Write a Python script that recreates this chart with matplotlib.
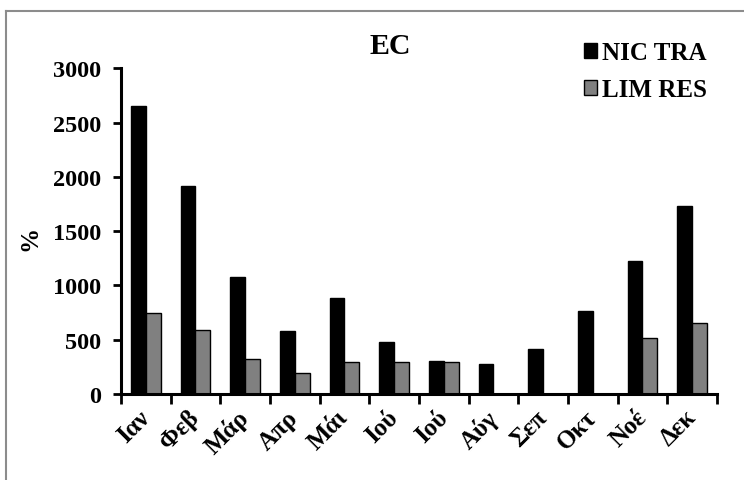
import matplotlib
matplotlib.use("Agg")
import matplotlib.pyplot as plt
from matplotlib.lines import Line2D
import numpy as np

plt.rcParams['font.family'] = ['Liberation Serif', 'DejaVu Serif']
plt.rcParams['font.weight'] = 'bold'

months = ["Ιαν", "Φεβ", "Μάρ", "Απρ", "Μάι", "Ιού", "Ιού", "Αύγ", "Σεπ", "Οκτ", "Νοέ", "Δεκ"]
nic_tra = [2655, 1915, 1075, 577, 880, 482, 307, 276, 414, 767, 1222, 1734]
lim_res = [750, 585, 322, 196, 295, 292, 292, 0, 0, 0, 518, 651]
yticks = [0, 500, 1000, 1500, 2000, 2500, 3000]

fig = plt.figure(figsize=(7.44, 4.81), dpi=100)
ax = fig.add_axes([0.1626, 0.1788, 0.8011, 0.6772])

x = np.arange(len(months))
w = 0.3
ax.bar(x - w / 2, nic_tra, width=w, color="black", edgecolor="black", linewidth=1, label="NIC TRA")
ax.bar(x + w / 2, lim_res, width=w, color="#808080", edgecolor="black", linewidth=1, label="LIM RES")

ax.set_xlim(-0.5, len(months) - 0.5)
ax.set_ylim(0, 3000)
ax.set_yticks(yticks)
ax.set_yticklabels([str(v) for v in yticks], fontsize=17.5, fontweight='bold')

# category boundaries carry the tick marks; labels sit under each group
ax.set_xticks(np.arange(-0.5, len(months) + 0.5, 1.0))
ax.set_xticklabels([])
ax.tick_params(axis='x', direction='out', length=7, width=2)
ax.tick_params(axis='y', direction='out', length=6, width=2, pad=8)
for i, m in enumerate(months):
    ax.text(i - 0.16, -0.035, m, transform=ax.get_xaxis_transform(), rotation=45,
            ha='right', va='top', rotation_mode='anchor', fontsize=18, fontweight='bold')

for s in ("top", "right"):
    ax.spines[s].set_visible(False)
for s in ("left", "bottom"):
    ax.spines[s].set_linewidth(2.2)

ax.set_ylabel("%", fontsize=18, fontweight='bold', va='center')
ax.yaxis.set_label_coords(-0.153, 0.48)
fig.text(390 / 744, 1 - 46 / 481, "EC", ha='center', va='center', fontsize=21.5, fontweight='bold')

leg = ax.legend(loc='upper left', bbox_to_anchor=(561 / 744, 1 - 20 / 481),
                bbox_transform=fig.transFigure, frameon=False,
                handlelength=0.55, handleheight=0.55, handletextpad=0.2, labelspacing=0.55,
                prop={'weight': 'bold', 'size': 18})

# chart-area border
fig.add_artist(Line2D([6 / 744, 6 / 744], [0, 1 - 12 / 481], transform=fig.transFigure,
                      color="#8c8c8c", linewidth=1.5))
fig.add_artist(Line2D([6 / 744, 1], [1 - 12 / 481, 1 - 12 / 481], transform=fig.transFigure,
                      color="#8c8c8c", linewidth=1.5))

fig.savefig("out.png", dpi=100)
